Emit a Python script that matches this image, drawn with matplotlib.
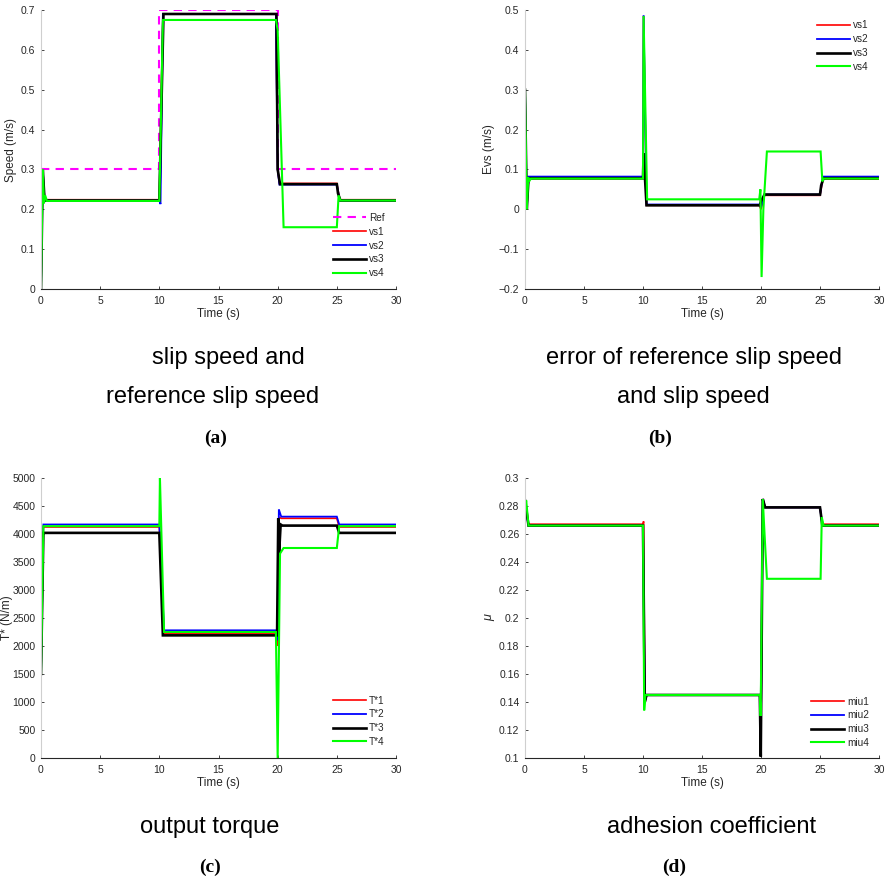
import matplotlib
matplotlib.use("Agg")
import matplotlib.pyplot as plt

plt.rcParams['font.family'] = ['Liberation Sans', 'DejaVu Sans']

# ---------------- data: (a) slip speed ----------------
ref_t = [0, 10, 10, 20, 20, 30]
ref_v = [0.3, 0.3, 0.7, 0.7, 0.3, 0.3]

a_vs1_t = [0, 0.15, 0.3, 0.5, 10.0, 10.3, 19.85, 20.0, 20.15, 25.0, 25.25, 30]
a_vs1_v = [0, 0.30, 0.226, 0.224, 0.224, 0.69, 0.69, 0.30, 0.265, 0.265, 0.224, 0.224]
a_vs2_t = [0, 0.15, 0.3, 10.0, 10.1, 10.3, 19.85, 20.0, 20.15, 25.0, 25.25, 30]
a_vs2_v = [0, 0.30, 0.222, 0.222, 0.213, 0.69, 0.69, 0.30, 0.262, 0.262, 0.222, 0.222]
a_vs3_t = [0, 0.15, 0.3, 10.0, 10.35, 19.9, 20.0, 20.2, 25.0, 25.1, 25.3, 30]
a_vs3_v = [0, 0.30, 0.222, 0.222, 0.69, 0.69, 0.30, 0.263, 0.263, 0.24, 0.222, 0.222]
a_vs4_t = [0, 0.15, 0.25, 0.35, 0.5, 10.0, 10.3, 19.85, 20.0, 20.5, 25.0, 25.15, 25.3, 30]
a_vs4_v = [0, 0.30, 0.215, 0.235, 0.221, 0.221, 0.675, 0.675, 0.65, 0.155, 0.155, 0.235, 0.222, 0.222]

# ---------------- data: (b) error of slip speed ----------------
b_vs1_t = [0, 0.15, 0.3, 0.5, 10.0, 10.05, 10.3, 19.85, 20.0, 20.3, 25.0, 25.25, 30]
b_vs1_v = [0.3, 0.0, 0.08, 0.077, 0.077, 0.485, 0.010, 0.010, 0.0, 0.035, 0.035, 0.076, 0.076]
b_vs2_t = [0, 0.15, 0.3, 10.0, 10.05, 10.3, 19.85, 20.0, 20.3, 25.0, 25.25, 30]
b_vs2_v = [0.3, 0.0, 0.082, 0.082, 0.487, 0.012, 0.012, 0.005, 0.037, 0.037, 0.082, 0.082]
b_vs3_t = [0, 0.15, 0.3, 10.0, 10.05, 10.3, 19.9, 20.0, 20.3, 25.0, 25.1, 25.3, 30]
b_vs3_v = [0.3, 0.0, 0.078, 0.078, 0.14, 0.010, 0.010, 0.02, 0.037, 0.037, 0.06, 0.078, 0.078]
b_vs4_t = [0, 0.15, 0.28, 0.35, 0.5, 10.0, 10.05, 10.35, 19.85, 19.95, 20.05, 20.2, 20.5, 25.05, 25.2, 25.3, 30]
b_vs4_v = [0.3, 0.0, 0.08, 0.07, 0.077, 0.077, 0.485, 0.025, 0.025, 0.05, -0.17, 0.0, 0.145, 0.145, 0.07, 0.077, 0.077]

# ---------------- data: (c) output torque ----------------
c_T1_t = [0, 0.2, 10.0, 10.4, 19.9, 20.0, 20.1, 20.3, 25.0, 25.2, 30]
c_T1_v = [1480, 4125, 4125, 2230, 2230, 2000, 4300, 4280, 4280, 4125, 4125]
c_T2_t = [0, 0.2, 10.0, 10.4, 19.85, 20.0, 20.1, 20.3, 25.0, 25.2, 30]
c_T2_v = [1500, 4170, 4170, 2280, 2280, 2100, 4440, 4310, 4310, 4170, 4170]
c_T3_t = [0, 0.2, 10.0, 10.3, 19.95, 20.05, 20.12, 20.25, 20.4, 25.0, 25.2, 30]
c_T3_v = [1500, 4020, 4020, 2190, 2190, 4280, 3650, 4170, 4150, 4150, 4020, 4020]
c_T4_t = [0, 0.2, 10.0, 10.05, 10.4, 19.85, 20.0, 20.2, 20.5, 25.0, 25.2, 30]
c_T4_v = [1500, 4140, 4140, 5000, 2250, 2250, 0, 3650, 3750, 3750, 4140, 4140]

# ---------------- data: (d) adhesion coefficient ----------------
d_m1_t = [0, 0.1, 0.3, 10.0, 10.05, 10.15, 10.3, 19.9, 20.0, 20.15, 20.35, 25.0, 25.2, 30]
d_m1_v = [0.284, 0.276, 0.267, 0.267, 0.269, 0.140, 0.145, 0.145, 0.13, 0.285, 0.279, 0.279, 0.267, 0.267]
d_m2_t = [0, 0.1, 0.3, 10.0, 10.15, 10.3, 19.9, 20.0, 20.15, 20.35, 25.0, 25.2, 30]
d_m2_v = [0.284, 0.276, 0.266, 0.266, 0.140, 0.145, 0.145, 0.13, 0.285, 0.279, 0.279, 0.266, 0.266]
d_m3_t = [0, 0.3, 10.0, 10.15, 10.3, 19.9, 19.98, 20.15, 20.35, 25.0, 25.2, 30]
d_m3_v = [0.284, 0.266, 0.266, 0.140, 0.145, 0.145, 0.101, 0.285, 0.279, 0.279, 0.266, 0.266]
d_m4_t = [0, 0.05, 0.1, 0.3, 10.0, 10.1, 10.2, 19.9, 19.97, 20.15, 20.3, 20.5, 25.05, 25.15, 25.3, 30]
d_m4_v = [0.284, 0.280, 0.284, 0.266, 0.266, 0.134, 0.145, 0.145, 0.13, 0.285, 0.26, 0.228, 0.228, 0.272, 0.266, 0.266]

x_ticks = [0, 5, 10, 15, 20, 25, 30]

# ---------------- figure ----------------
W, H = 891, 880
fig = plt.figure(figsize=(W / 100, H / 100), dpi=100)

def px_axes(l, t, r, b):
    return fig.add_axes([l / W, 1 - b / H, (r - l) / W, (b - t) / H])

colors = ['#ff0000', '#0000ff', '#000000', '#00ff00']
widths = [1.2, 1.3, 1.9, 1.5]
TXT = '#262626'

def style(ax, ylim, yticks, ylabel, yfmt):
    ax.set_xlim(0, 30)
    ax.set_ylim(*ylim)
    ax.set_xticks(x_ticks)
    ax.set_yticks(yticks)
    ax.set_yticklabels([yfmt(v) for v in yticks])
    for s in ['top', 'right']:
        ax.spines[s].set_visible(False)
    ax.spines['bottom'].set_color(TXT)
    ax.spines['left'].set_color('#cfcfcf')
    ax.spines['bottom'].set_linewidth(0.8)
    ax.spines['left'].set_linewidth(0.8)
    ax.tick_params(direction='in', length=2.5, width=0.6, colors=TXT,
                   labelsize=7.5)
    ax.tick_params(axis='x', pad=5)
    ax.tick_params(axis='y', pad=4)
    ax.set_xlabel('Time (s)', fontsize=8.5, color=TXT, labelpad=1.5)
    ax.set_ylabel(ylabel, fontsize=8.5, color=TXT, labelpad=3)

def legend(ax, handles, labels, x, y):
    ax.legend(handles, labels, loc='upper left',
              bbox_to_anchor=(x / W, 1 - y / H), bbox_transform=fig.transFigure,
              frameon=False, fontsize=7.2, handlelength=3.3, handletextpad=0.3,
              labelspacing=0.38, borderpad=0, borderaxespad=0,
              labelcolor=TXT)

def plot_series(ax, series):
    hs = []
    for (t, v), c, w in zip(series, colors, widths):
        h, = ax.plot(t, v, color=c, lw=w, solid_joinstyle='miter')
        hs.append(h)
    return hs

# (a)
ax_a = px_axes(41, 10, 396, 289)
hr, = ax_a.plot(ref_t, ref_v, color='#ff00ff', lw=1.5, ls=(0, (4, 3)))
hs = plot_series(ax_a, [(a_vs1_t, a_vs1_v), (a_vs2_t, a_vs2_v),
                        (a_vs3_t, a_vs3_v), (a_vs4_t, a_vs4_v)])
style(ax_a, (0, 0.7), [0, 0.1, 0.2, 0.3, 0.4, 0.5, 0.6, 0.7], 'Speed (m/s)',
      lambda v: '0' if v == 0 else f'{v:g}')
legend(ax_a, [hr] + hs, ['Ref', 'vs1', 'vs2', 'vs3', 'vs4'], 333, 213)

# (b)
ax_b = px_axes(525, 10, 879, 289)
hs = plot_series(ax_b, [(b_vs1_t, b_vs1_v), (b_vs2_t, b_vs2_v),
                        (b_vs3_t, b_vs3_v), (b_vs4_t, b_vs4_v)])
style(ax_b, (-0.2, 0.5), [-0.2, -0.1, 0, 0.1, 0.2, 0.3, 0.4, 0.5], 'Evs (m/s)',
      lambda v: '0' if v == 0 else f'{v:g}'.replace('-', '\u2212'))
legend(ax_b, hs, ['vs1', 'vs2', 'vs3', 'vs4'], 817, 20.5)

# (c)
ax_c = px_axes(41, 478, 396, 758)
hs = plot_series(ax_c, [(c_T1_t, c_T1_v), (c_T2_t, c_T2_v),
                        (c_T3_t, c_T3_v), (c_T4_t, c_T4_v)])
style(ax_c, (0, 5000), list(range(0, 5001, 500)), 'T* (N/m)', lambda v: f'{v:d}')
ax_c.yaxis.set_label_coords((13 - 41) / 355, 0.5)
legend(ax_c, hs, ['T*1', 'T*2', 'T*3', 'T*4'], 333, 695.5)

# (d)
ax_d = px_axes(525, 478, 879, 758)
hs = plot_series(ax_d, [(d_m1_t, d_m1_v), (d_m2_t, d_m2_v),
                        (d_m3_t, d_m3_v), (d_m4_t, d_m4_v)])
style(ax_d, (0.1, 0.3), [0.1, 0.12, 0.14, 0.16, 0.18, 0.2, 0.22, 0.24, 0.26, 0.28, 0.3],
      '\u03bc', lambda v: f'{v:g}')
ax_d.set_ylabel('\u03bc', fontsize=9, color=TXT, fontstyle='italic')
legend(ax_d, hs, ['miu1', 'miu2', 'miu3', 'miu4'], 811, 696.5)

# captions
cap = dict(fontsize=17, color='black', ha='center', va='center')
lab = dict(fontsize=14, fontweight='bold', family='Liberation Serif',
           color='black', ha='center', va='center')

def ftext(x, y, s, **kw):
    fig.text(x / W, 1 - y / H, s, **kw)

ftext(228, 358, 'slip speed and', **cap)
ftext(213, 397, 'reference slip speed', **cap)
ftext(216, 438, '(a)', **lab)
ftext(694, 358, 'error of reference slip speed', **cap)
ftext(693, 397, 'and slip speed', **cap)
ftext(660, 438, '(b)', **lab)
ftext(210, 827, 'output torque', **cap)
ftext(210, 867, '(c)', **lab)
ftext(712, 827, 'adhesion coefficient', **cap)
ftext(674, 867, '(d)', **lab)

fig.savefig('out.png', dpi=100)
